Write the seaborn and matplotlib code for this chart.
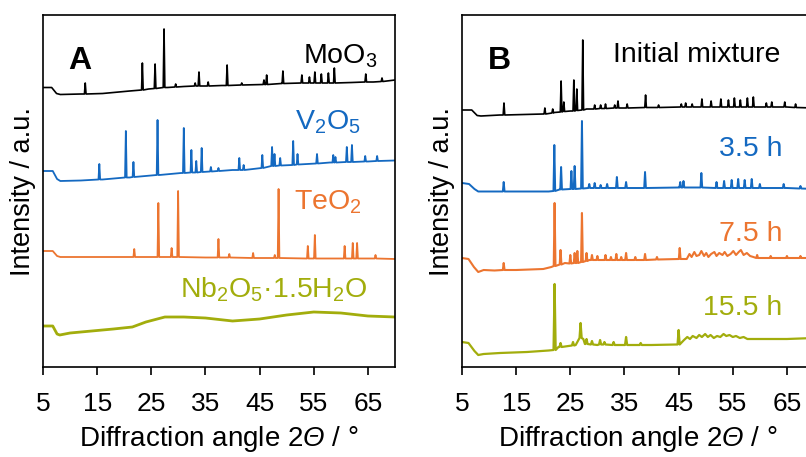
import numpy as np
import matplotlib
matplotlib.use("Agg")
import matplotlib.pyplot as plt
import seaborn as sns

# ---------------- data (2θ in degrees, intensity in a.u.) ----------------
# Panel A: reference oxides
moo3_bg_x = [5, 6.6, 7.5, 8.2, 12, 16, 21, 24.5, 28, 31, 38, 46, 49, 55, 62, 66, 70]
moo3_bg_y = [7.5, 7.5, 1.5, 0.5, 1, 1.5, 4, 6, 7.5, 8.5, 9.5, 10.5, 11.5, 12, 12.5, 13, 15]
moo3_pk_x = [12.8, 23.35, 25.7, 27.35, 29.5, 33.1, 33.8, 35.5, 39.0, 41.7, 45.8, 46.3,
             49.3, 52.8, 54.2, 55.2, 56.4, 57.7, 58.8, 64.6, 67.6]
moo3_pk_base = [1, 5, 6.5, 7.5, 8, 9, 9, 9, 9.5, 10, 10.5, 10.5,
                11.5, 12, 12, 12, 12, 12, 12, 13, 13.5]
moo3_pk_top = [12, 32, 31, 66, 11, 12, 23, 13, 30, 12, 15, 20,
               24, 20, 18, 23, 21, 22, 27, 21, 17]

v2o5_bg_x = [5, 6.8, 7.6, 8.2, 12, 16, 21, 26.5, 30.5, 40, 47.5, 58.0, 65, 70]
v2o5_bg_y = [10, 10, 2, 0, 0.5, 1.5, 3.5, 6, 8, 11, 15, 18.5, 19.5, 20.5]
v2o5_pk_x = [15.4, 20.3, 21.7, 26.15, 31.0, 32.4, 33.3, 34.3, 36.0, 37.4, 41.25, 42.05,
             45.5, 47.3, 47.75, 48.8, 51.2, 52.0, 55.6, 58.6, 59.0, 61.1, 62.05, 64.5, 66.7]
v2o5_pk_base = [1.5, 3.5, 4, 6, 8, 8.5, 8.5, 9, 9.5, 10, 11, 11,
                13, 15, 15, 15.5, 16, 16.5, 17.5, 18.5, 18.5, 19, 19, 19.5, 20]
v2o5_pk_top = [17, 50, 19, 61, 53, 31, 20, 33, 14, 13, 23, 16,
               26, 34, 27, 23, 40, 27, 27, 26, 24, 34, 36, 25, 25]

teo2_bg_x = [5, 6.8, 7.6, 8.2, 15, 25, 35, 45, 55, 65, 70]
teo2_bg_y = [9, 9, 4, 3, 3, 3, 2.5, 2, 1.5, 1.5, 1]
teo2_pk_x = [21.85, 26.3, 28.75, 29.95, 37.4, 39.4, 43.8, 47.8, 48.5, 53.9, 55.2,
             60.7, 62.2, 63.0, 66.4]
teo2_pk_base = [3, 3, 3, 3, 2.5, 2.5, 2, 2, 2, 1.5, 1.5, 1.5, 1.5, 1.5, 1.5]
teo2_pk_top = [11, 57, 12, 69, 21, 6, 7, 5, 71, 14, 25, 14, 17, 17, 5]

nb2o5_bg_x = [5, 6.8, 7.6, 8.1, 10, 14, 18, 21.5, 24, 27.5, 31, 35, 40, 45, 50, 55, 60, 65, 70]
nb2o5_bg_y = [10, 10, 2, 1, 3, 5, 7, 9, 14, 19, 19, 18, 15, 17, 21, 24, 23, 20, 19]

# Panel B: milling time series
mix_bg_x = [5, 6.8, 7.8, 8.5, 12, 20, 22, 25, 28, 35, 40, 50, 60, 65, 70]
mix_bg_y = [7, 7, 1.5, 1, 2, 3, 4.5, 6, 8, 9, 9.5, 10, 10, 10, 9]
mix_pk_x = [12.75, 20.3, 21.75, 23.3, 23.8, 25.65, 26.2, 27.3, 29.5, 30.6, 31.5, 33.2,
            33.8, 35.5, 38.9, 41.3, 45.5, 46.3, 47.5, 49.3, 51.0, 52.8, 54.2, 55.3,
            56.4, 57.7, 58.8, 61.2, 62.2, 64.6, 66.6]
mix_pk_base = [2, 3, 4, 5, 5.5, 6, 6.5, 7, 8, 8.5, 8.5, 9,
               9, 9, 9.5, 9.5, 10, 10, 10, 10, 10, 10, 10, 10,
               10, 10, 10, 10, 10, 10, 9.5]
mix_pk_top = [14, 9, 8, 36, 15, 37, 28, 77, 12, 12, 13, 12,
              16, 13, 22, 12, 13, 14, 13, 18, 16, 18, 17, 19,
              17, 19, 20, 14, 15, 15, 13]

h35_bg_x = [5, 6.3, 7.3, 8.0, 12, 21, 23, 29, 35, 45, 55, 65, 70]
h35_bg_y = [10, 9, 4, 1.5, 1.5, 1.5, 3.5, 5, 5, 5.5, 5, 5, 4]
h35_pk_x = [12.7, 22.05, 23.3, 25.2, 25.8, 27.15, 28.5, 29.5, 30.6, 31.8, 33.6, 35.3,
            38.8, 45.3, 45.9, 49.2, 52.0, 53.4, 54.8, 56.0, 57.2, 58.5, 60.0, 64.4, 67.5]
h35_pk_base = [1.5, 2, 3.5, 4, 4, 4.5, 5, 5, 5, 5, 5, 5,
               5, 5.5, 5.5, 5.5, 5, 5, 5, 5, 5, 5, 5, 5, 4.5]
h35_pk_top = [11, 48, 26, 22, 27, 72, 9, 10, 8, 9, 16, 11,
              21, 11, 12, 20, 11, 12, 13, 14, 13, 14, 9, 9, 7]

h75_bg_x = [5, 6.2, 7.2, 8.0, 9, 11, 15, 20, 21.5, 24, 28.5, 35, 45, 46.5,
            47.0, 47.4, 47.9, 48.3, 48.8, 49.2, 49.7, 50.1, 50.5, 51.0, 51.6, 52.0,
            52.5, 53.1, 53.5, 54.0, 54.6, 55.1, 55.6, 56.1, 56.5, 57.0, 57.6, 58.2,
            58.8, 60, 70]
h75_bg_y = [15, 14, 6, 1, 3, 2.5, 3, 4, 6, 10, 13, 13, 14, 14,
            19, 16, 21, 17, 18, 22, 17, 20, 16, 19, 21, 17,
            20, 18, 21, 17, 19, 22, 18, 21, 23, 18, 20, 17,
            16, 15, 15]
h75_pk_x = [12.7, 22.1, 23.2, 25.0, 25.8, 26.3, 27.15, 28.0, 29.0, 30.0, 31.5, 32.5,
            33.5, 34.4, 35.3, 37.0, 38.8, 41.0, 45.2, 59.5, 62.0, 65.0, 67.5]
h75_pk_base = [3, 7, 8.5, 9.5, 10, 10, 11, 12, 13, 13, 13, 13,
               13, 13, 13, 13, 13, 13.5, 14, 15, 15, 15, 15]
h75_pk_top = [10, 70, 23, 18, 20, 22, 60, 20, 18, 17, 18, 16,
              19, 16, 20, 16, 19, 16, 25, 18, 17, 17, 17]

h155_bg_x = [5, 6.2, 7.3, 8.0, 9, 12, 17, 21, 22.8, 26.0, 26.5, 27.4, 27.7, 30, 40,
             44.5, 46, 46.6, 47.1, 47.6, 48.3, 48.8, 49.3, 49.9, 50.4, 50.9, 51.5,
             52.1, 52.7, 53.3, 53.8, 54.4, 55.0, 55.6, 56.3, 57.0, 57.7, 60, 65, 70]
h155_bg_y = [14, 13, 5, 1, 2, 3, 4, 5.5, 9, 11, 16, 17, 12, 11, 11,
             11.5, 16, 19, 17, 20, 18, 21, 19, 22, 19, 21, 18,
             20, 19, 22, 20, 21, 19, 20, 18, 19, 17, 17, 17, 18]
h155_pk_x = [22.1, 23.2, 25.5, 26.9, 28.0, 29.0, 30.5, 31.3, 33.0, 35.3, 38.0, 45.0]
h155_pk_base = [6, 9, 10.5, 18, 12, 11.5, 11.5, 11.5, 11, 11, 11, 11.5]
h155_pk_top = [72, 13, 14, 33, 17, 15, 16, 14, 14, 19, 13, 26]

x_ticks = [5, 15, 25, 35, 45, 55, 65]

# ---------------- style ----------------
sns.set_theme(style="white")
plt.rcParams["font.family"] = ["Liberation Sans", "DejaVu Sans"]
plt.rcParams["mathtext.fontset"] = "custom"
plt.rcParams["mathtext.rm"] = "Liberation Sans"
plt.rcParams["mathtext.it"] = "Liberation Sans:italic"
plt.rcParams["mathtext.bf"] = "Liberation Sans:bold"
# slanted Greek capital for the angle symbol (mathit keeps capitals upright)
plt.rcParams["mathtext.sf"] = "Liberation Sans:italic"

BLACK = "#000000"
BLUE = "#1469C1"
ORANGE = "#EC7530"
OLIVE = "#A2AD0C"


def build_trace(bg_x, bg_y, pk_x=(), pk_base=(), pk_top=(), half_width=0.15):
    """Merge background knots with narrow triangular reflections."""
    xs = list(bg_x)
    ys = list(bg_y)
    for p, b, t in zip(pk_x, pk_base, pk_top):
        xs += [p - half_width, p, p + half_width]
        ys += [b, t, b]
    order = np.argsort(xs, kind="stable")
    return np.asarray(xs)[order], np.asarray(ys, dtype=float)[order]


fig = plt.figure(figsize=(8.06, 4.57), dpi=100)
ax_a = fig.add_axes([43 / 806, 1 - 367 / 457, 352 / 806, 352 / 457])
ax_b = fig.add_axes([462 / 806, 1 - 367 / 457, 352 / 806, 352 / 457])

panel_a = [
    (build_trace(moo3_bg_x, moo3_bg_y, moo3_pk_x, moo3_pk_base, moo3_pk_top), 272, BLACK, 1.2),
    (build_trace(v2o5_bg_x, v2o5_bg_y, v2o5_pk_x, v2o5_pk_base, v2o5_pk_top), 186, BLUE, 1.3),
    (build_trace(teo2_bg_x, teo2_bg_y, teo2_pk_x, teo2_pk_base, teo2_pk_top), 107, ORANGE, 1.3),
    (build_trace(nb2o5_bg_x, nb2o5_bg_y), 31, OLIVE, 2.0),
]
panel_b = [
    (build_trace(mix_bg_x, mix_bg_y, mix_pk_x, mix_pk_base, mix_pk_top), 250, BLACK, 1.2),
    (build_trace(h35_bg_x, h35_bg_y, h35_pk_x, h35_pk_base, h35_pk_top, 0.16), 174, BLUE, 1.4),
    (build_trace(h75_bg_x, h75_bg_y, h75_pk_x, h75_pk_base, h75_pk_top, 0.16), 94, ORANGE, 1.5),
    (build_trace(h155_bg_x, h155_bg_y, h155_pk_x, h155_pk_base, h155_pk_top, 0.2), 11, OLIVE, 1.6),
]

for ax, traces in ((ax_a, panel_a), (ax_b, panel_b)):
    for (x, y), offset, color, lw in traces:
        sns.lineplot(x=x, y=y + offset, ax=ax, color=color, lw=lw,
                     sort=False, estimator=None, legend=False)

label_kw = dict(fontsize=20.5, ha="right", va="baseline")
ax_a.text(66.8, 304, "MoO$_3$", color=BLACK, **label_kw)
ax_a.text(63.6, 238, "V$_2$O$_5$", color=BLUE, **label_kw)
ax_a.text(63.9, 157, "TeO$_2$", color=ORANGE, **label_kw)
ax_a.text(65.0, 70, "Nb$_2$O$_5$·1.5H$_2$O", color=OLIVE, **label_kw)

ax_b.text(63.7, 305, "Initial mixture", color=BLACK, **label_kw)
ax_b.text(64.1, 211, "3.5 h", color=BLUE, **label_kw)
ax_b.text(64.1, 126, "7.5 h", color=ORANGE, **label_kw)
ax_b.text(64.1, 52, "15.5 h", color=OLIVE, **label_kw)

for ax, letter in ((ax_a, "A"), (ax_b, "B")):
    ax.set_xlim(5, 70)
    ax.set_ylim(0, 352)
    ax.set_xticks(x_ticks)
    ax.set_xticklabels([str(t) for t in x_ticks])
    ax.set_yticks([])
    ax.tick_params(axis="x", direction="out", length=5.8, width=1.2,
                   pad=12, labelsize=19, colors=BLACK, bottom=True)
    for side in ("left", "right", "top", "bottom"):
        ax.spines[side].set_color(BLACK)
        ax.spines[side].set_linewidth(1.2)
    ax.set_xlabel("Diffraction angle 2$\\mathsf{Θ}$ / °", fontsize=20,
                  color=BLACK, labelpad=6)
    ax.set_ylabel("Intensity / a.u.", fontsize=19.5, color=BLACK)
    ax.yaxis.set_label_coords(-0.02, 0.5)
    ax.text(0.105, 0.87, letter, transform=ax.transAxes, fontsize=23,
            fontweight="bold", ha="center", va="center", color=BLACK)

fig.savefig("out.png", dpi=100)
